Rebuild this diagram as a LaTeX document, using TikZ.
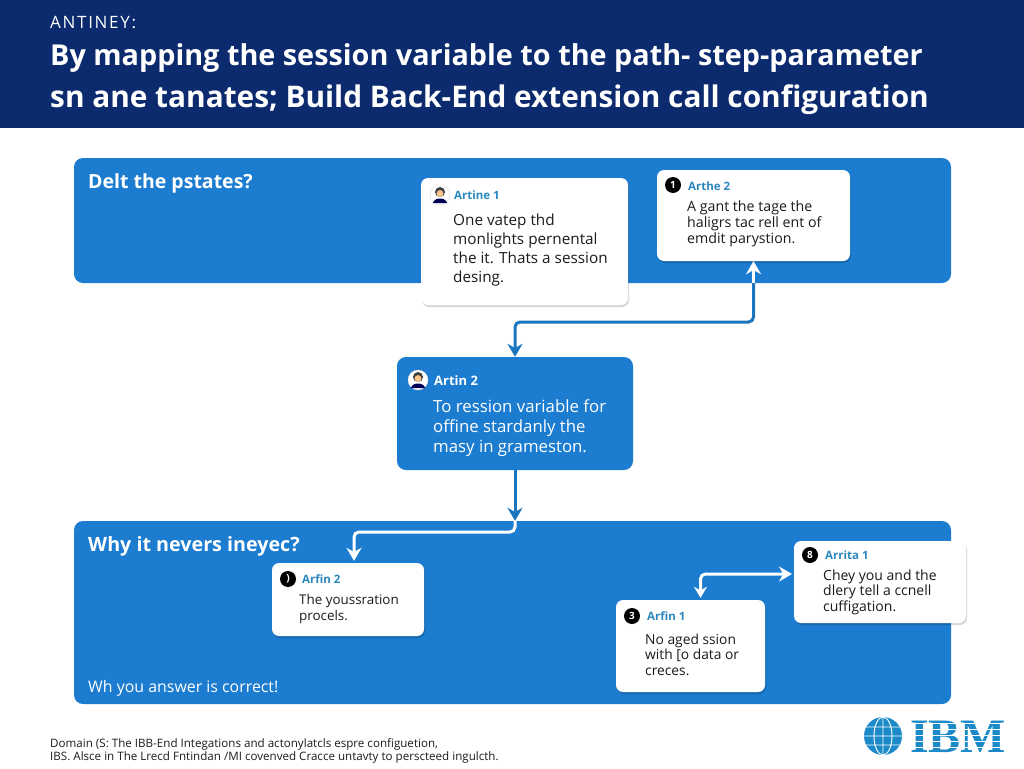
\documentclass[tikz,border=0pt]{standalone}
\usepackage{fontspec}
\setmainfont{Open Sans}
\newfontfamily\logofont{Liberation Serif}
\usetikzlibrary{arrows.meta,shadows,calc}
\definecolor{navy}{HTML}{0B2B6E}
\definecolor{panelblue}{HTML}{1B7CD0}
\definecolor{linkblue}{HTML}{1A76BE}
\definecolor{namecol}{HTML}{2A86BC}
\definecolor{logoblue}{HTML}{1C8AC9}
\definecolor{inkcol}{HTML}{1B1B1B}
\tikzset{
  panel/.style={fill=panelblue,rounded corners=9pt,inner sep=0pt},
  card/.style={fill=white,rounded corners=7pt,inner sep=0pt,
    drop shadow={shadow xshift=1pt,shadow yshift=-2pt,opacity=.16,fill=black}},
  badge/.style={circle,fill=black,text=white,inner sep=0pt,minimum size=16pt,
    font=\fontsize{10}{10}\selectfont\bfseries},
  avatar/.style={circle,fill=white,draw=black!15,inner sep=0pt,minimum size=20pt},
  namelabel/.style={anchor=west,inner sep=0pt,text=namecol,font=\fontsize{11.5}{12}\selectfont\bfseries},
  body/.style={anchor=north west,inner sep=0pt,align=left,text=inkcol},
  bluelink/.style={draw=linkblue,line width=3pt,rounded corners=5pt,-{Stealth[length=13pt,width=15pt]}},
  whitelink/.style={draw=white,line width=3pt,rounded corners=5pt},
  whitetip/.style={-{Stealth[length=13pt,width=15pt]}},
}
\newcommand{\avatarface}[1]{
  \fill[black!75] ($(#1)+(0,-3)$) circle (5);
  \fill[orange!45!white] ($(#1)+(0,-1.5)$) circle (3.4);
  \fill[blue!35!black] ($(#1)+(-7,8)$) .. controls ($(#1)+(-6,2)$) and ($(#1)+(6,2)$) .. ($(#1)+(7,8)$) -- cycle;
}
\begin{document}
\begin{tikzpicture}[x=1pt,y=-1pt]
\useasboundingbox (0,0) rectangle (1024,768);
\fill[white] (0,0) rectangle (1024,768);

% Bandeau
\fill[navy] (0,0) rectangle (1024,128);
\node[anchor=west,inner sep=0pt,text=white,font=\fontsize{17}{18}\selectfont\addfontfeature{LetterSpace=10}]
(surtitre) at (50,23)
{ANTINEY:};
\node[anchor=west,inner sep=0pt,text=white,font=\fontsize{28.8}{30}\selectfont\bfseries]
(titreun) at (50,58)
{By mapping the session variable to the path- step-parameter};
\node[anchor=west,inner sep=0pt,text=white,font=\fontsize{29.8}{32}\selectfont\bfseries]
(titredeux) at (50,100)
{sn ane tanates; Build Back-End extension call configuration};

% Panneaux
\node[panel,minimum width=877pt,minimum height=125pt]
(panelhaut) at (512.5,220.5) {};
\node[panel,minimum width=877pt,minimum height=183pt]
(panelbas) at (512.5,612.5) {};
\node[anchor=west,inner sep=0pt,text=white,font=\fontsize{19.5}{22}\selectfont\bfseries]
(questionun) at (88,183)
{Delt the pstates?};
\node[anchor=west,inner sep=0pt,text=white,font=\fontsize{19.7}{22}\selectfont\bfseries]
(questiondeux) at (88,546)
{Why it nevers ineyec?};
\node[anchor=west,inner sep=0pt,text=white,font=\fontsize{15.9}{17}\selectfont]
(reponse) at (88,688)
{Wh you answer is correct!};

% Cartes
\node[card,minimum width=207pt,minimum height=127pt]
(carteA) at (524.5,241.5) {};
\node[card,minimum width=193pt,minimum height=91pt]
(carteB) at (753.5,215.5) {};
\node[panel,minimum width=236pt,minimum height=113pt]
(carteM) at (515,413.5) {};
\node[card,minimum width=152pt,minimum height=73pt]
(carteC) at (348,599.5) {};
\node[card,minimum width=149pt,minimum height=92pt]
(carteD) at (690.5,646) {};
\node[card,minimum width=172pt,minimum height=82pt]
(carteE) at (880,582) {};

% Carte A
\node[avatar] (avatarA) at (440,195) {};
\avatarface{avatarA}
\node[namelabel] (nomA) at (454,195) {Artine 1};
\node[body,font=\fontsize{15.3}{19}\selectfont] (texteA) at (453,213.5)
{One vatep thd\\monlights pernental\\the it. Thats a session\\desing.};

% Carte B
\node[badge] (badgeB) at (673,185) {1};
\node[namelabel] (nomB) at (688,186) {Arthe 2};
\node[body,font=\fontsize{14.2}{16}\selectfont] (texteB) at (687,201)
{A gant the tage the\\haligrs tac rell ent of\\emdit parystion.};

% Carte M
\node[avatar] (avatarM) at (418,380) {};
\avatarface{avatarM}
\node[namelabel,text=white,font=\fontsize{13}{14}\selectfont\bfseries] (nomM) at (434,381) {Artin 2};
\node[body,text=white,font=\fontsize{16.8}{20}\selectfont] (texteM) at (433,399.5)
{To ression variable for\\offine stardanly the\\masy in grameston.};

% Carte C
\node[badge] (badgeC) at (288,579) {)};
\node[namelabel] (nomC) at (302,579) {Arfin 2};
\node[body,font=\fontsize{13.4}{15.5}\selectfont] (texteC) at (299,594.5)
{The youssration\\procels.};

% Carte D
\node[badge] (badgeD) at (632,616) {3};
\node[namelabel] (nomD) at (647,616) {Arfin 1};
\node[body,font=\fontsize{13.8}{15.5}\selectfont] (texteD) at (645,633.5)
{No aged ssion\\with {[}o data or\\creces.};

% Carte E
\node[badge] (badgeE) at (810,555) {8};
\node[namelabel] (nomE) at (825,555) {Arrita 1};
\node[body,font=\fontsize{14}{15.5}\selectfont] (texteE) at (823,569.5)
{Chey you and the\\dlery tell a ccnell\\cuffigation.};

% Liaisons
\coordinate (coudeA) at (0,322);
\coordinate (sortieA) at (carteB.south |- panelhaut.south);
\coordinate (entreeB) at (carteM.south |- panelbas.north);
\coordinate (coudeB) at (0,532);
\coordinate (arriveeC) at ($(carteC.north)+(6,-2)$);
\coordinate (departD) at ($(carteD.north)+(10,-2)$);
\coordinate (arriveeE) at (792,574);

\draw[whitelink,whitetip] (sortieA) -- (carteB.south);
\draw[bluelink] (sortieA) -- (sortieA |- coudeA) -| (carteM.north);
\draw[bluelink] (carteM.south) -- (entreeB);
\draw[whitelink,whitetip] (entreeB) -- (entreeB |- coudeB) -| (arriveeC);
\draw[whitelink,{Stealth[length=11pt,width=13pt]}-{Stealth[length=13pt,width=15pt]}] (departD) |- (arriveeE);

% Pied de page
\node[anchor=west,inner sep=0pt,text=inkcol,font=\fontsize{11.6}{13}\selectfont]
(piedun) at (50,744.5)
{Domain (S: The IBB-End Integations and actonylatcls espre configuetion,};
\node[anchor=west,inner sep=0pt,text=inkcol,font=\fontsize{11.6}{13}\selectfont]
(pieddeux) at (50,757.5)
{IBS. Alsce in The Lrecd Fntindan /MI covenved Cracce untavty to perscteed ingulcth.};

% Logo
\fill[logoblue] (883,736) circle (19);
\draw[white,line width=.9pt] (883,717) -- (883,755)
(864,736) -- (902,736)
(883,736) ellipse (9 and 19)
(866,727) -- (900,727)
(866,745) -- (900,745);
\node[inner sep=0pt,text=logoblue,font=\fontsize{48}{48}\logofont\bfseries]
(logo) at (958,737)
{IBM};
\foreach \ypos in {723,729,735,741,747}
\draw[white,line width=.8pt] (908,\ypos) -- (1008,\ypos);

\end{tikzpicture}
\end{document}
